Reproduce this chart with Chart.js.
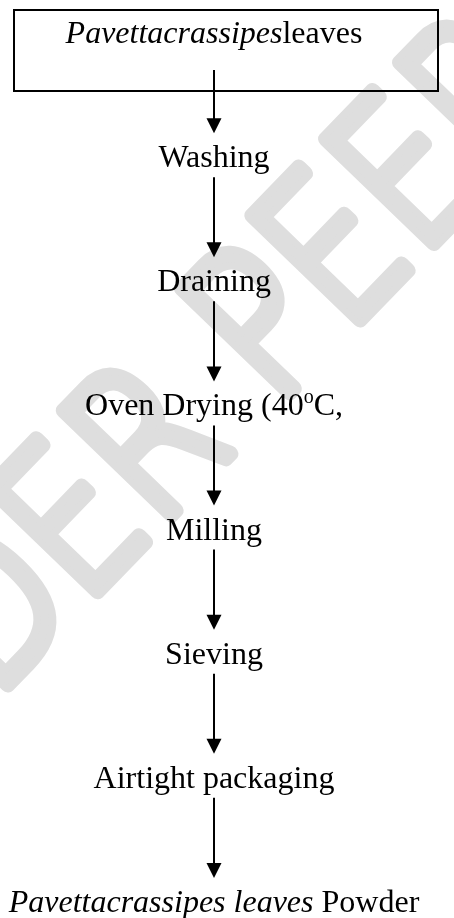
<!DOCTYPE html>
<html>
<head>
<meta charset="utf-8">
<script src="https://cdn.jsdelivr.net/npm/chart.js@4"></script>
<style>
    body { margin: 0; background: #ffffff; }
    #wrap { width: 454px; height: 918px; position: relative; }
</style>
</head>
<body>
<div id="wrap"><canvas id="flowChart"></canvas></div>
<script>
// Process steps, top to bottom
const steps = [
    "Pavettacrassipesleaves",
    "Washing",
    "Draining",
    "Oven Drying (40oC,",
    "Milling",
    "Sieving",
    "Airtight packaging",
    "Pavettacrassipes leaves Powder"
];
const italicPrefix = ["Pavettacrassipes", "", "", "", "", "", "", "Pavettacrassipes leaves"];
const superChar = ["", "", "", "o", "", "", "", ""]; // degree "o" is raised
const boxedSteps = ["Pavettacrassipesleaves"];
const watermark = "UNDER PEER REVIEW";

const FONT = "'Liberation Serif', 'Times New Roman', serif";

// split one label into plain / italic / superscript pieces
function stepSegments(label, i) {
    let segs = [];
    let rest = label;
    if (italicPrefix[i]) {
        segs.push({ t: italicPrefix[i], italic: true });
        rest = label.slice(italicPrefix[i].length);
    }
    if (superChar[i]) {
        let k = rest.lastIndexOf(superChar[i]);
        segs.push({ t: rest.slice(0, k) });
        segs.push({ t: superChar[i], sup: true });
        rest = rest.slice(k + superChar[i].length);
    }
    if (rest) segs.push({ t: rest });
    return segs;
}

function segFont(s) {
    if (s.sup) return "20px " + FONT;
    return (s.italic ? "italic " : "") + "32px " + FONT;
}

const flowPlugin = {
    id: "flow",
    beforeDatasetsDraw(chart) {
        // light diagonal watermark behind the flow
        const ctx = chart.ctx;
        const a = -46 * Math.PI / 180;
        const squeeze = 0.82;
        ctx.save();
        ctx.font = "200 205px 'DejaVu Sans'";
        const lead = ctx.measureText("UNDER P").width * squeeze;
        ctx.translate(345 - lead * Math.cos(a), 335 - lead * Math.sin(a));
        ctx.rotate(a);
        ctx.scale(squeeze, 1);
        ctx.textAlign = "left";
        ctx.textBaseline = "alphabetic";
        ctx.fillStyle = "#dedede";
        ctx.strokeStyle = "#dedede";
        ctx.lineWidth = 16;
        ctx.lineJoin = "round";
        ctx.strokeText(watermark, 0, 0);
        ctx.fillText(watermark, 0, 0);
        ctx.restore();
    },
    afterDatasetsDraw(chart) {
        const ctx = chart.ctx;
        const pts = chart.getDatasetMeta(0).data;
        ctx.save();
        ctx.fillStyle = "#000";
        ctx.strokeStyle = "#000";
        ctx.textBaseline = "alphabetic";

        pts.forEach((p, i) => {
            const segs = stepSegments(steps[i], i);
            let total = 0;
            segs.forEach(s => {
                ctx.font = segFont(s);
                s.w = ctx.measureText(s.t).width;
                total += s.w;
            });
            let x = p.x - total / 2;
            segs.forEach(s => {
                ctx.font = segFont(s);
                ctx.fillText(s.t, x, p.y + 10 - (s.sup ? 12 : 0));
                x += s.w;
            });

            const boxed = boxedSteps.includes(steps[i]);
            if (boxed) {
                ctx.lineWidth = 2;
                ctx.strokeRect(14, p.y - 23, chart.width - 30, 81);
            }

            // arrow down to the next step
            if (i < pts.length - 1) {
                const next = pts[i + 1];
                const y0 = p.y + (boxed ? 37 : 20);
                const tip = next.y - 24;
                ctx.lineWidth = 2;
                ctx.beginPath();
                ctx.moveTo(p.x, y0);
                ctx.lineTo(p.x, tip - 10);
                ctx.stroke();
                ctx.beginPath();
                ctx.moveTo(p.x - 7.5, tip - 15);
                ctx.lineTo(p.x + 7.5, tip - 15);
                ctx.lineTo(p.x, tip);
                ctx.closePath();
                ctx.fill();
            }
        });
        ctx.restore();
    }
};

new Chart(document.getElementById("flowChart"), {
    type: "scatter",
    data: {
        datasets: [{
            data: steps.map(s => ({ x: 0, y: s })),
            pointRadius: 0,
            showLine: false
        }]
    },
    options: {
        responsive: true,
        maintainAspectRatio: false,
        animation: false,
        layout: { padding: { top: 33, bottom: 16, left: 0, right: 26 } },
        scales: {
            x: { type: "linear", min: -1, max: 1, display: false },
            y: { type: "category", labels: steps, offset: false, display: false }
        },
        plugins: {
            legend: { display: false },
            tooltip: { enabled: false }
        }
    },
    plugins: [flowPlugin]
});
</script>
</body>
</html>
